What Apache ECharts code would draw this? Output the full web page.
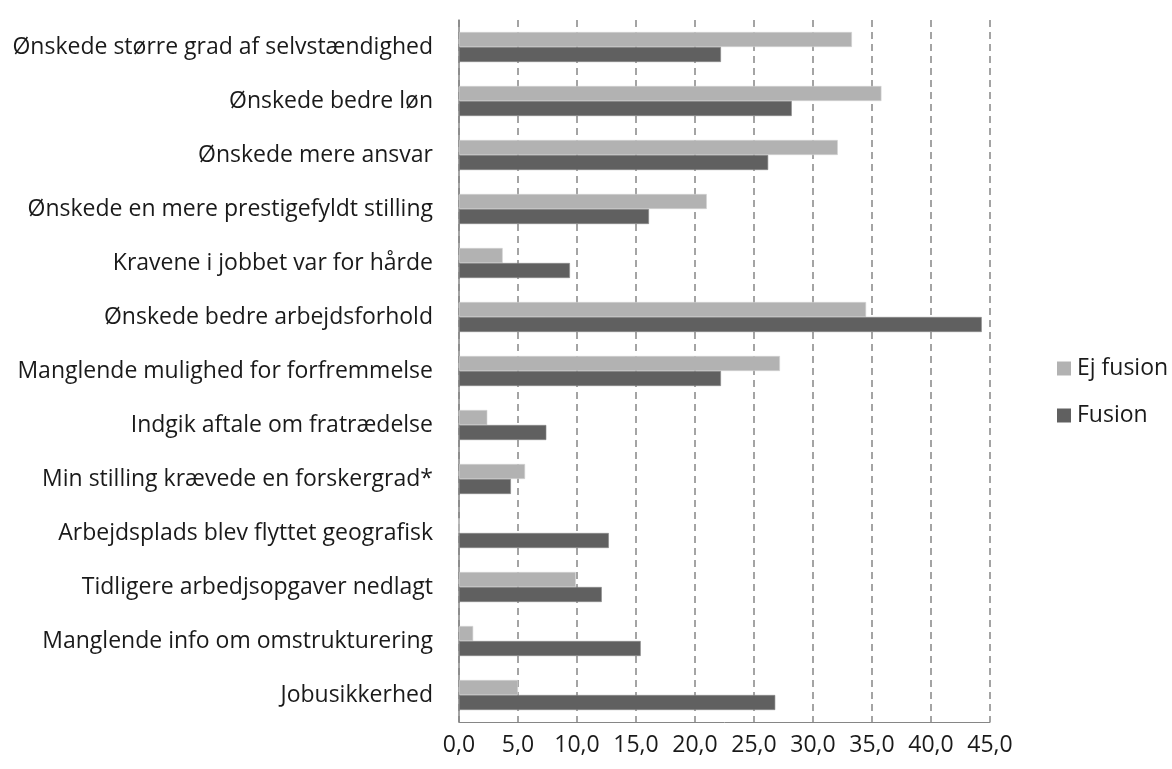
<!DOCTYPE html>
<html>
<head>
<meta charset="utf-8">
<script src="https://cdn.jsdelivr.net/npm/echarts@6/dist/echarts.min.js"></script>
<style>
html,body{margin:0;padding:0;background:#fff;}
#chart{width:1172px;height:769px;}
</style>
</head>
<body>
<div id="chart"></div>
<script>
const categories = [
  "Ønskede større grad af selvstændighed",
  "Ønskede bedre løn",
  "Ønskede mere ansvar",
  "Ønskede en mere prestigefyldt stilling",
  "Kravene i jobbet var for hårde",
  "Ønskede bedre arbejdsforhold",
  "Manglende mulighed for forfremmelse",
  "Indgik aftale om fratrædelse",
  "Min stilling krævede en forskergrad*",
  "Arbejdsplads blev flyttet geografisk",
  "Tidligere arbedjsopgaver nedlagt",
  "Manglende info om omstrukturering",
  "Jobusikkerhed"
];
const ejFusion = [33.3, 35.8, 32.1, 21.0, 3.7, 34.5, 27.2, 2.4, 5.6, 0, 9.9, 1.2, 5.0];
const fusion   = [22.2, 28.2, 26.2, 16.1, 9.4, 44.3, 22.2, 7.4, 4.4, 12.7, 12.1, 15.4, 26.8];
const seriesNames = ["Ej fusion", "Fusion"];

const FONT = "Open Sans";
const FS = 23;
const chart = echarts.init(document.getElementById('chart'), null, {renderer:'canvas'});
chart.setOption({
  animation: false,
  backgroundColor: '#ffffff',
  textStyle: {fontFamily: FONT},
  grid: {left: 459, top: 20, width: 531, height: 702, containLabel: false},
  legend: {
    orient: 'vertical',
    left: 1052,
    top: 352,
    itemWidth: 14,
    itemHeight: 14,
    itemGap: 24,
    icon: 'rect',
    itemStyle: {borderWidth: 0},
    textStyle: {fontFamily: FONT, fontSize: FS, color: '#1a1a1a', padding: [0,0,0,1]},
    data: seriesNames
  },
  xAxis: {
    type: 'value',
    min: 0, max: 45, interval: 5,
    axisLine: {show: true, lineStyle: {color: '#868686', width: 1}},
    axisTick: {show: false},
    splitLine: {show: true, lineStyle: {color: '#868686', type: [7,5], width: 1.5}},
    axisLabel: {
      fontFamily: FONT, fontSize: FS, color: '#1a1a1a', margin: 12,
      formatter: v => v.toFixed(1).replace('.', ',')
    }
  },
  yAxis: {
    type: 'category',
    inverse: true,
    data: categories,
    axisLine: {show: true, lineStyle: {color: '#868686', width: 1.5}},
    axisTick: {show: false},
    splitLine: {show: false},
    axisLabel: {fontFamily: FONT, fontSize: FS, color: '#1a1a1a', margin: 26}
  },
  series: [
    {
      name: seriesNames[0], type: 'bar', data: ejFusion,
      barWidth: 15, barGap: '0%',
      itemStyle: {color: '#b2b2b2', borderColor: '#d4d4d4', borderWidth: 0.6}
    },
    {
      name: seriesNames[1], type: 'bar', data: fusion,
      barWidth: 15, barGap: '0%',
      itemStyle: {color: '#606060', borderColor: '#8a8a8a', borderWidth: 0.6}
    }
  ]
});
</script>
</body>
</html>
